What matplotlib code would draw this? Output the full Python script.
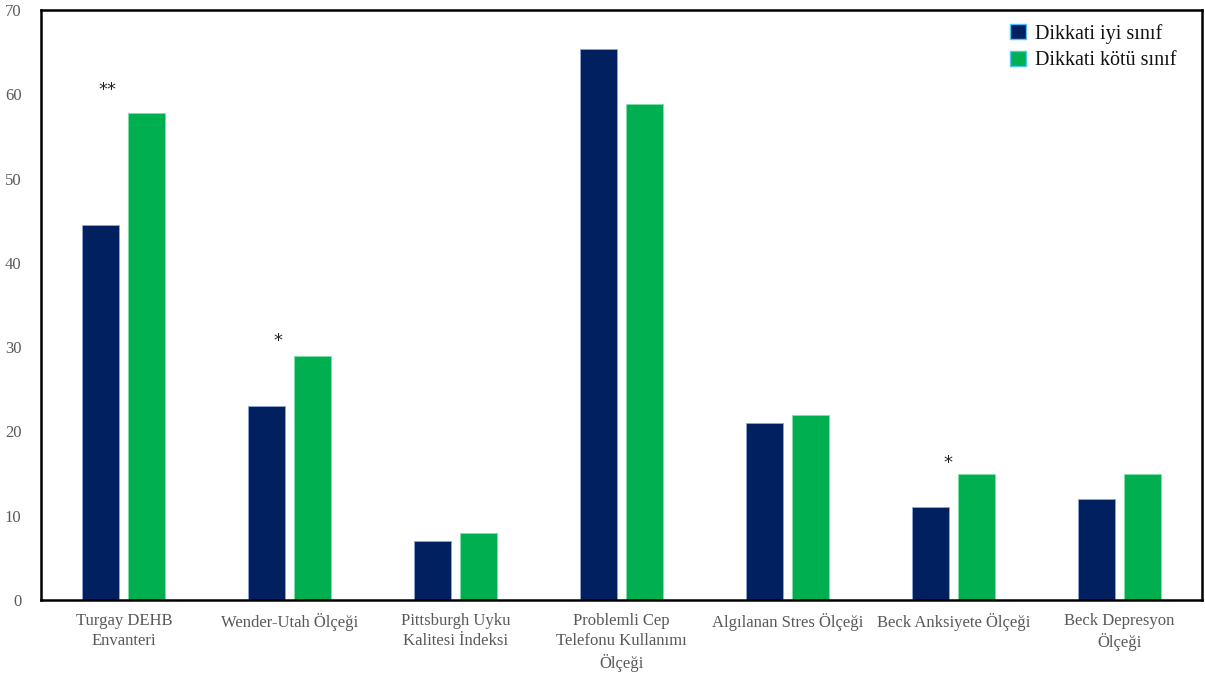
import matplotlib
matplotlib.use("Agg")
import matplotlib.pyplot as plt
import numpy as np

categories = [
    "Turgay DEHB\nEnvanteri",
    "Wender-Utah Ölçeği",
    "Pittsburgh Uyku\nKalitesi İndeksi",
    "Problemli Cep\nTelefonu Kullanımı\nÖlçeği",
    "Algılanan Stres Ölçeği",
    "Beck Anksiyete Ölçeği",
    "Beck Depresyon\nÖlçeği",
]
good_attention = [44.5, 23, 7, 65.4, 21, 11, 12]
poor_attention = [57.8, 29, 8, 58.9, 22, 15, 15]
series_names = ["Dikkati iyi sınıf", "Dikkati kötü sınıf"]

# significance markers: (category index, x offset, y position, label)
sig_marks = [(0, -0.10, 60.5, "**"), (1, -0.07, 30.7, "*"), (5, -0.03, 16.2, "*")]

navy = "#002060"
green = "#00B050"

plt.rcParams["font.family"] = ["Liberation Serif", "DejaVu Serif"]

fig = plt.figure(figsize=(12.05, 6.82), dpi=100)
ax = fig.add_axes([0.034, 0.1202, 0.9636, 0.8651])

x = np.arange(len(categories))
w = 0.223
off = 0.139
ax.bar(x - off, good_attention, w, color=navy, edgecolor="#8FA6D6", linewidth=0.6,
       label=series_names[0], zorder=2)
ax.bar(x + off, poor_attention, w, color=green, edgecolor="#7FE0A8", linewidth=0.6,
       label=series_names[1], zorder=2)

for idx, dx, yv, txt in sig_marks:
    ax.text(idx + dx, yv, txt, ha="center", va="center", fontsize=13,
            color="#222222", family="DejaVu Sans")

ax.set_xlim(-0.5, len(categories) - 0.5)
ax.set_ylim(0, 70)
ax.set_yticks(np.arange(0, 71, 10))
ax.set_xticks(x)
ax.set_xticklabels(categories, fontsize=12, color="#595959", linespacing=1.35)
ax.tick_params(axis="both", length=0, labelsize=12, labelcolor="#595959")
ax.tick_params(axis="y", pad=14)
ax.tick_params(axis="x", pad=9)
for s in ax.spines.values():
    s.set_linewidth(1.8)
    s.set_color("black")

leg = ax.legend(loc="upper right", bbox_to_anchor=(0.988, 0.997), frameon=False,
                fontsize=14.5, handlelength=0.75, handleheight=0.75, handletextpad=0.45,
                labelspacing=0.35, borderaxespad=0.2)
for t in leg.get_texts():
    t.set_color("#111111")
for h in leg.legend_handles:
    h.set_edgecolor("#4FC3F7")
    h.set_linewidth(1.0)

fig.savefig("out.png", dpi=100, facecolor="white")
